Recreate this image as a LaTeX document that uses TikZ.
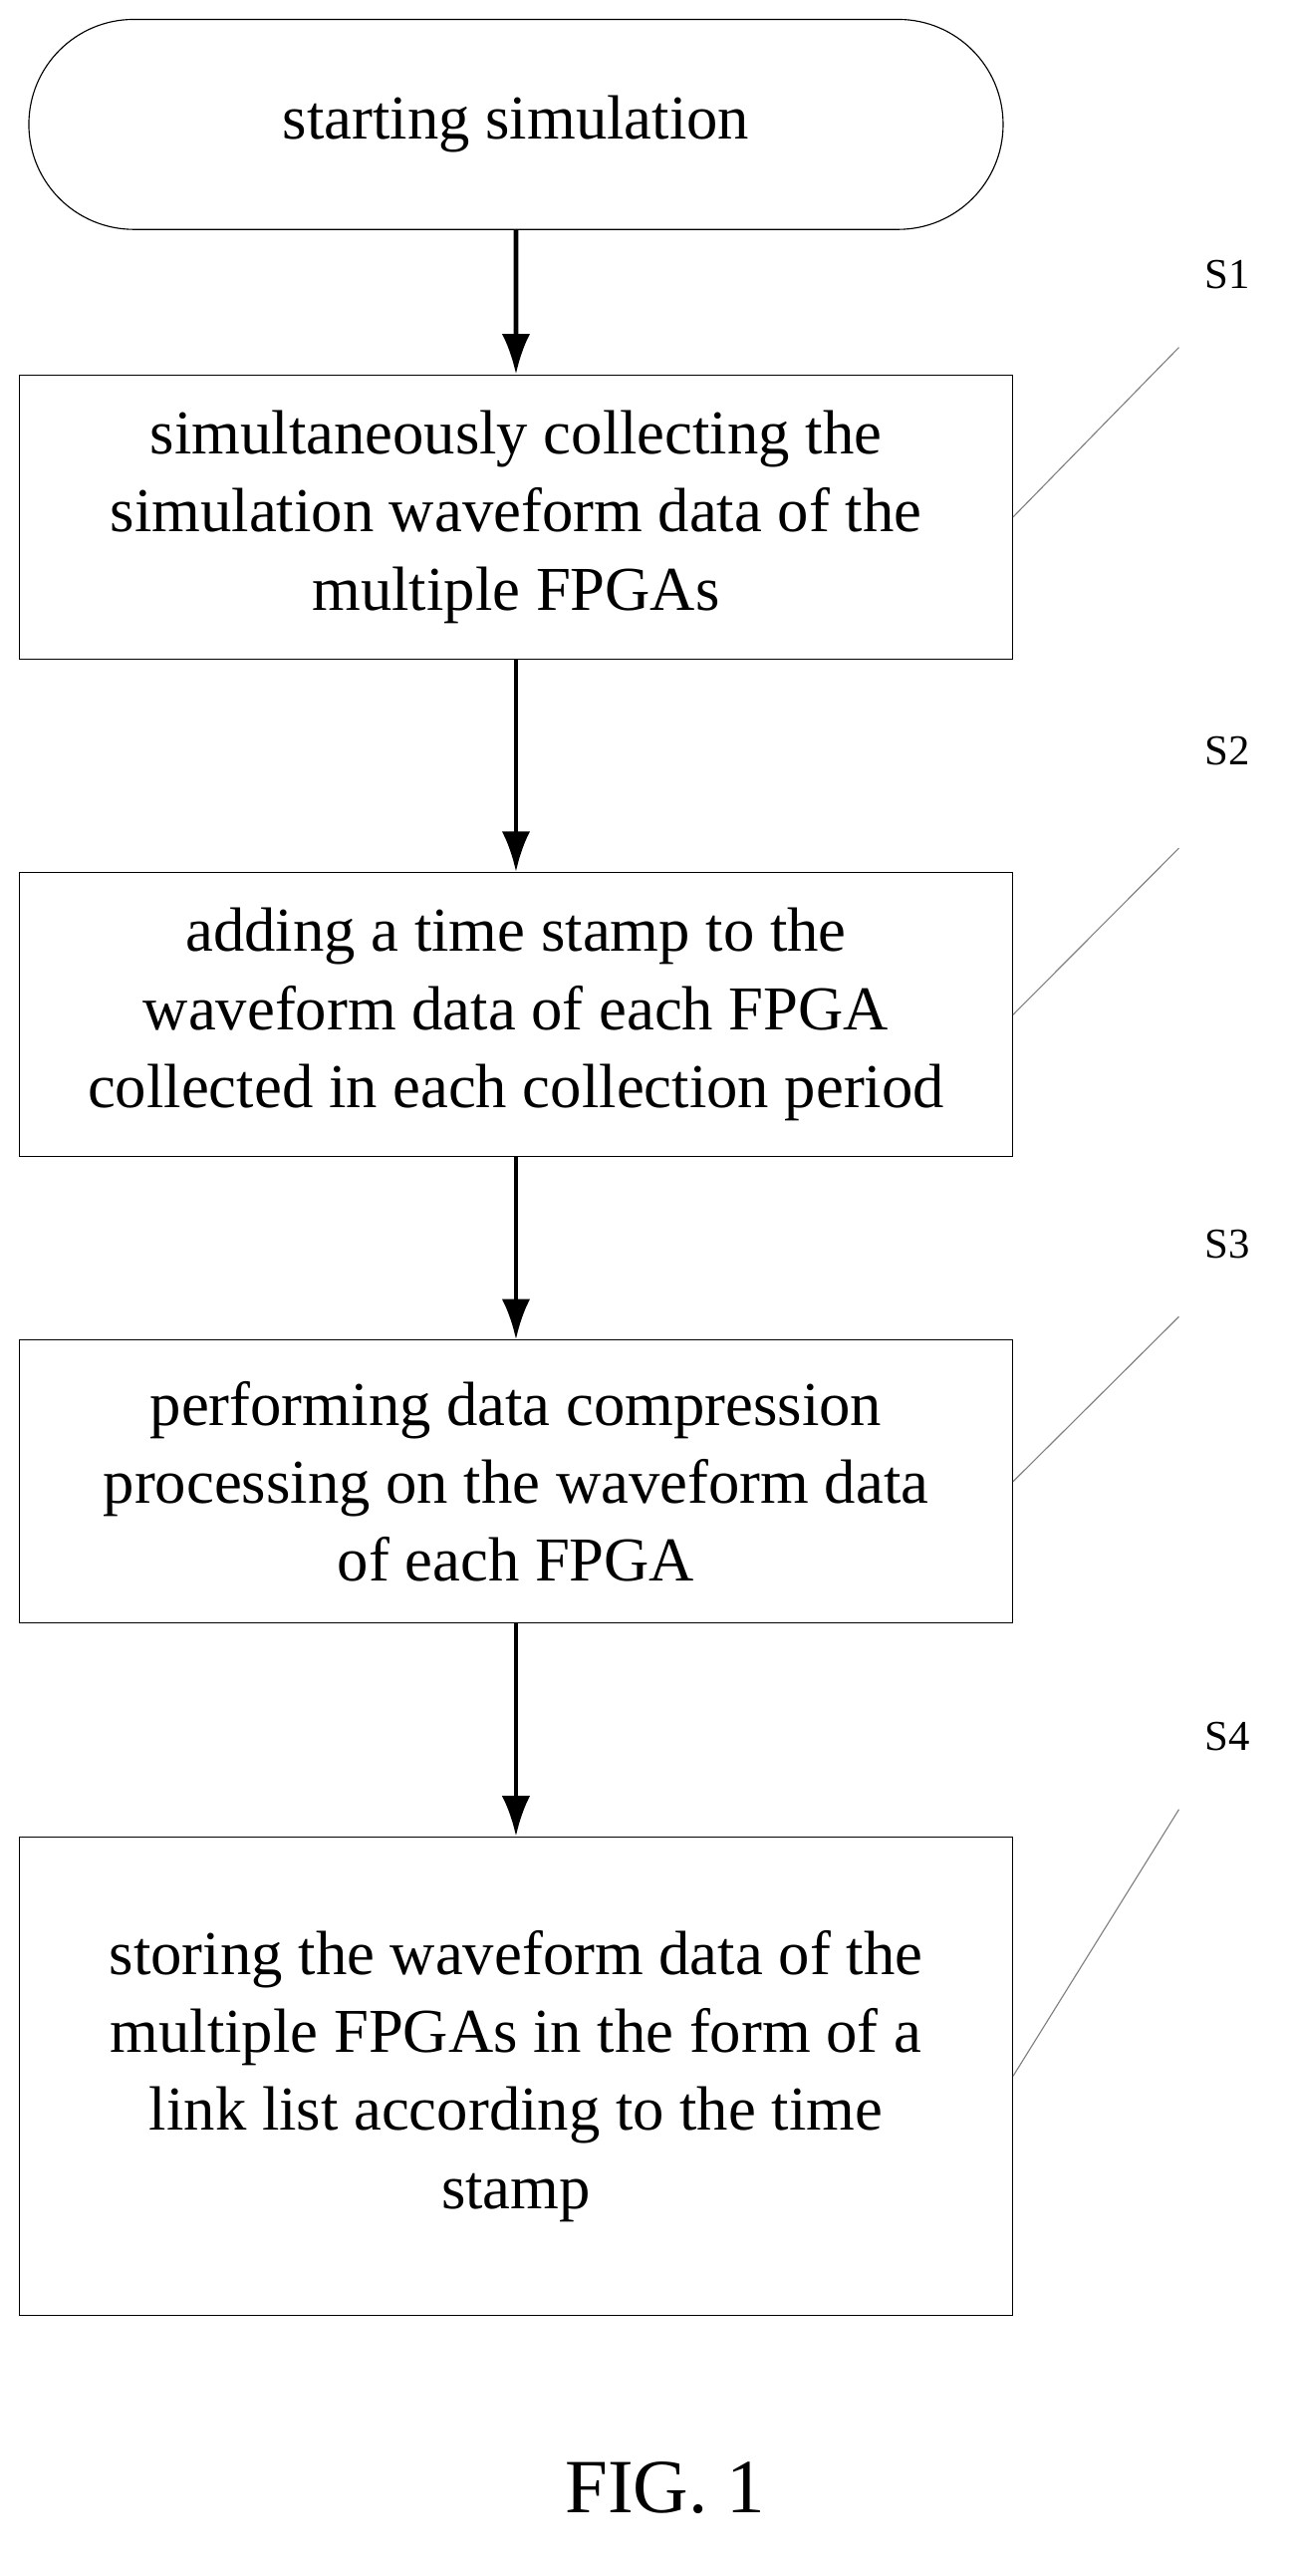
\documentclass[tikz,border=0pt]{standalone}
\usepackage{fontspec}
\setmainfont{Liberation Serif}
\usetikzlibrary{positioning,shapes.misc,arrows.meta}

\begin{document}
\begin{tikzpicture}[
  stepbox/.style={draw, thin, minimum width=12.3cm, align=center,
    font=\fontsize{22}{27.5}\selectfont},
  flow/.style={-{Latex[length=5mm,width=3.5mm]}, line width=1.6pt},
  tag/.style={font=\fontsize{15}{18}\selectfont}
  ]
  \useasboundingbox (0,0) rectangle (16,-31.89);
  \node[draw, thin, rounded rectangle, minimum width=12.3cm, minimum height=2.6cm,
    font=\fontsize{22}{27.5}\selectfont] (start) at (6.39,-1.54) {starting simulation};
  \node[stepbox, minimum height=3.52cm] (s1) at (6.39,-6.4)
    {simultaneously collecting the\\ simulation waveform data of the\\ multiple FPGAs};
  \node[stepbox, minimum height=3.52cm] (s2) at (6.39,-12.56)
    {adding a time stamp to the\\ waveform data of each FPGA\\ collected in each collection period};
  \node[stepbox, minimum height=3.5cm] (s3) at (6.39,-18.34)
    {performing data compression\\ processing on the waveform data\\ of each FPGA};
  \node[stepbox, minimum height=5.92cm] (s4) at (6.39,-25.7)
    {storing the waveform data of the\\ multiple FPGAs in the form of a\\ link list according to the time\\ stamp};
  \draw[flow] (start) -- (s1);
  \draw[flow] (s1) -- (s2);
  \draw[flow] (s2) -- (s3);
  \draw[flow] (s3) -- (s4);
  % step tags
  \node[tag] (t1) at (15.2,-3.4) {S1};
  \node[tag] (t2) at (15.2,-9.3) {S2};
  \node[tag] (t3) at (15.2,-15.4) {S3};
  \node[tag] (t4) at (15.2,-21.5) {S4};
  \coordinate (e1) at (14.6,-4.3);
  \coordinate (e2) at (14.6,-10.5);
  \coordinate (e3) at (14.6,-16.3);
  \coordinate (e4) at (14.6,-22.4);
  \draw[thin, gray] (s1.east) -- (e1);
  \draw[thin, gray] (s2.east) -- (e2);
  \draw[thin, gray] (s3.east) -- (e3);
  \draw[thin, gray] (s4.east) -- (e4);
  \node[font=\fontsize{27}{32}\selectfont] (fig) at (8.24,-30.8) {FIG. 1};
\end{tikzpicture}
\end{document}
